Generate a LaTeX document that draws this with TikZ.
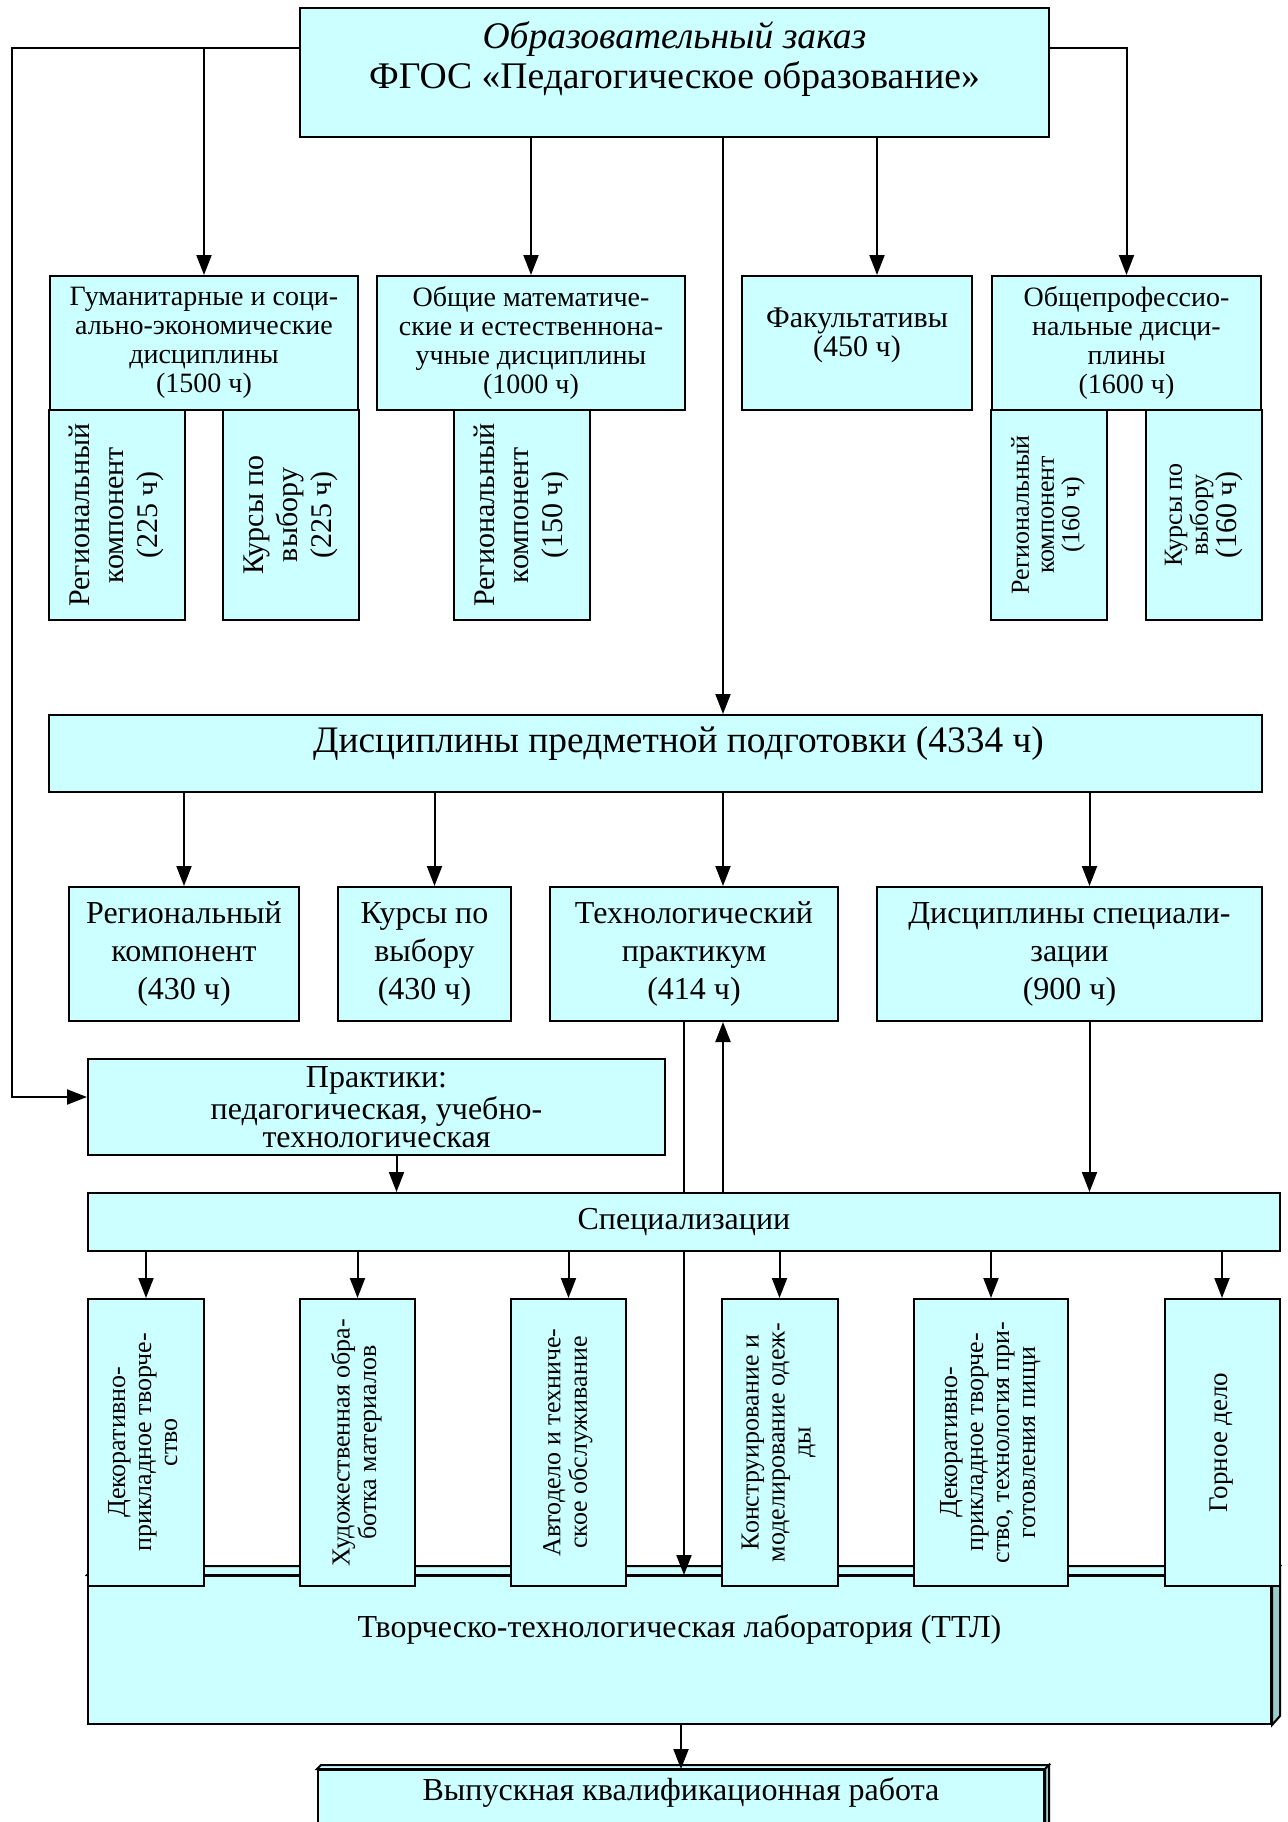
\documentclass[tikz,border=0pt]{standalone}
\usepackage{fontspec}
\setmainfont{Liberation Serif}
\usetikzlibrary{arrows.meta}
\definecolor{boxfill}{HTML}{CCFFFF}
\definecolor{boxside}{HTML}{99CCCC}
\newcommand{\vlab}[1]{\rotatebox{90}{\begin{tabular}{@{}c@{}}#1\end{tabular}}}
\tikzset{
  blk/.style={draw, fill=boxfill, line width=1pt, inner sep=0pt, align=center},
  vblk/.style={draw, fill=boxfill, line width=1pt, inner sep=0pt},
}
\begin{document}
\begin{tikzpicture}[x=0.5pt, y=-0.5pt, line width=1pt, >={Triangle[length=10pt,width=7.5pt]}]
\useasboundingbox (0,0) rectangle (1288,1822);
\clip (0,0) rectangle (1288,1822);

\node[blk, minimum width=374.5pt, minimum height=64.5pt, text depth=17pt, font=\fontsize{18.8}{20}\selectfont] (top) at (674.5,72.5) {\textit{Образовательный заказ}\\ФГОС «Педагогическое образование»};

\node[blk, minimum width=154pt, minimum height=67pt, font=\fontsize{14}{14.5}\selectfont] (hum) at (204,343) {Гуманитарные и соци-\\ально-экономические\\дисциплины\\(1500 ч)};
\node[blk, minimum width=154pt, minimum height=67pt, font=\fontsize{14}{14.5}\selectfont] (mat) at (531,343) {Общие математиче-\\ские и естественнона-\\учные дисциплины\\(1000 ч)};
\node[blk, minimum width=115pt, minimum height=67pt, text depth=11pt, font=\fontsize{15}{13}\selectfont] (fak) at (857,343) {Факультативы\\(450 ч)};
\node[blk, minimum width=134.5pt, minimum height=67pt, font=\fontsize{14}{14.5}\selectfont] (prof) at (1126.5,343) {Общепрофессио-\\нальные дисци-\\плины\\(1600 ч)};

\node[vblk, minimum width=68pt, minimum height=105pt, font=\fontsize{15}{17}\selectfont] (huma) at (117,515) {\vlab{Региональный\\компонент\\(225 ч)}};
\node[vblk, minimum width=68pt, minimum height=105pt, font=\fontsize{15}{17}\selectfont] (humb) at (291,515) {\vlab{Курсы по\\выбору\\(225 ч)}};
\node[vblk, minimum width=68pt, minimum height=105pt, font=\fontsize{15}{17}\selectfont] (mata) at (522,515) {\vlab{Региональный\\компонент\\(150 ч)}};
\node[vblk, minimum width=58pt, minimum height=105pt, font=\fontsize{13}{12.5}\selectfont] (profa) at (1049,515) {\vlab{Региональный\\компонент\\(160 ч)}};
\node[vblk, minimum width=58pt, minimum height=105pt, font=\fontsize{13}{12.5}\selectfont] (profb) at (1204,515) {\vlab{Курсы по\\выбору\\{\fontsize{15}{12.5}\selectfont(160 ч)}}};

\node[blk, minimum width=606.5pt, minimum height=38.5pt, text depth=14pt, font=\fontsize{18.7}{20}\selectfont] (dpp) at (655.5,753.5) {\kern23pt Дисциплины предметной подготовки (4334 ч)};

\node[blk, minimum width=115pt, minimum height=67pt, font=\fontsize{16}{19}\selectfont] (rk) at (184,954) {Региональный\\компонент\\(430 ч)};
\node[blk, minimum width=86.5pt, minimum height=67pt, font=\fontsize{16}{19}\selectfont] (kv) at (424.5,954) {Курсы по\\выбору\\(430 ч)};
\node[blk, minimum width=144pt, minimum height=67pt, font=\fontsize{16}{19}\selectfont] (tp) at (694,954) {Технологический\\практикум\\(414 ч)};
\node[blk, minimum width=192.5pt, minimum height=67pt, font=\fontsize{16}{19}\selectfont] (ds) at (1069.5,954) {Дисциплины специали-\\зации\\(900 ч)};

\node[blk, minimum width=288.5pt, minimum height=48pt, font=\fontsize{16}{14}\selectfont] (prak) at (376.5,1107) {Практики:\\педагогическая, учебно-\\технологическая};
\node[blk, minimum width=596pt, minimum height=29pt, font=\fontsize{16}{18}\selectfont] (spec) at (684,1222) {Специализации};

\node[blk, minimum width=591.5pt, minimum height=74pt, text depth=24pt, font=\fontsize{16}{18}\selectfont] (ttl) at (679.5,1650) {Творческо-технологическая лаборатория (ТТЛ)};
\draw[fill=boxfill] (ttl.north west) -- ([shift={(8,-9)}]ttl.north west) -- ([shift={(8,-9)}]ttl.north east) -- (ttl.north east) -- cycle;
\draw[fill=boxside] (ttl.north east) -- ([shift={(8,-9)}]ttl.north east) -- ([shift={(8,-9)}]ttl.south east) -- (ttl.south east) -- cycle;

\node[vblk, minimum width=58pt, minimum height=143.5pt, font=\fontsize{13}{13}\selectfont] (sa) at (146,1442.5) {\vlab{Декоративно-\\прикладное творче-\\ство}};
\node[vblk, minimum width=57.5pt, minimum height=143.5pt, font=\fontsize{13}{13}\selectfont] (sb) at (357.5,1442.5) {\vlab{Художественная обра-\\ботка материалов}};
\node[vblk, minimum width=57.5pt, minimum height=143.5pt, font=\fontsize{13}{13}\selectfont] (sc) at (568.5,1442.5) {\vlab{Автодело и техниче-\\ское обслуживание}};
\node[vblk, minimum width=58pt, minimum height=143.5pt, font=\fontsize{13}{13}\selectfont] (sd) at (779.5,1442.5) {\vlab{Конструирование и\\моделирование одеж-\\ды}};
\node[vblk, minimum width=77pt, minimum height=143.5pt, font=\fontsize{13}{13}\selectfont] (se) at (991,1442.5) {\vlab{Декоративно-\\прикладное творче-\\ство, технология при-\\готовления пищи}};
\node[vblk, minimum width=57.5pt, minimum height=143.5pt, font=\fontsize{13.5}{13}\selectfont] (sf) at (1222,1442.5) {\vlab{Горное дело}};

\node[blk, minimum width=363pt, minimum height=35pt, text depth=15.5pt, font=\fontsize{16}{18}\selectfont] (vkr) at (681,1805) {Выпускная квалификационная работа};
\draw[fill=boxfill] (vkr.north west) -- ([shift={(4,-4)}]vkr.north west) -- ([shift={(4,-4)}]vkr.north east) -- (vkr.north east) -- cycle;
\draw[fill=boxside] (vkr.north east) -- ([shift={(4,-4)}]vkr.north east) -- ([shift={(4,-4)}]vkr.south east) -- (vkr.south east) -- cycle;

\coordinate (tl) at ([yshift=12.5pt]top.west);
\coordinate (tr) at ([yshift=12.5pt]top.east);
\coordinate (lft) at (12,0);
\coordinate (axis) at (723,0);
\coordinate (axisb) at (684,0);
\coordinate (fakin) at ([xshift=10pt]fak.north);
\coordinate (kvin) at ([xshift=5pt]kv.north);
\coordinate (dsin) at ([xshift=10pt]ds.north);
\coordinate (prin) at ([yshift=5pt]prak.west);
\coordinate (prout) at ([xshift=10pt]prak.south);

\draw[->] (tl) -| (lft |- prin) -- (prin);
\draw[->] (tl) -| (hum.north);
\draw[->] (tr) -| (prof.north);
\draw[->] (top.south -| mat.north) -- (mat.north);
\draw[->] (top.south -| fakin) -- (fakin);
\draw[->] (top.south -| axis) -- (dpp.north -| axis);

\draw[->] (dpp.south -| rk.north) -- (rk.north);
\draw[->] (dpp.south -| kvin) -- (kvin);
\draw[->] (dpp.south -| axis) -- (tp.north -| axis);
\draw[->] (dpp.south -| dsin) -- (dsin);

\draw (tp.south -| axisb) -- (spec.north -| axisb);
\draw[->] (spec.south -| axisb) -- (ttl.north -| axisb);
\draw[->] (spec.north -| axis) -- (tp.south -| axis);
\draw[->] (ds.south -| dsin) -- (spec.north -| dsin);
\draw[->] (prout) -- (prout |- spec.north);

\draw[->] (spec.south -| sa.north) -- (sa.north);
\draw[->] (spec.south -| sb.north) -- (sb.north);
\draw[->] (spec.south -| sc.north) -- (sc.north);
\draw[->] (spec.south -| sd.north) -- (sd.north);
\draw[->] (spec.south -| se.north) -- (se.north);
\draw[->] (spec.south -| sf.north) -- (sf.north);

\draw[->] (ttl.south -| vkr.north) -- (vkr.north);
\end{tikzpicture}
\end{document}
